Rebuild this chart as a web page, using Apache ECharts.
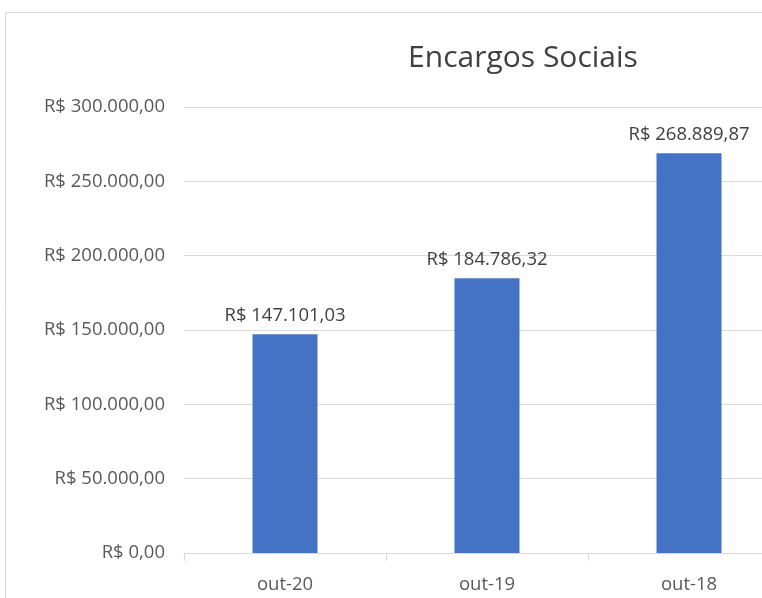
<!DOCTYPE html>
<html><head><meta charset="utf-8">
<script src="https://cdn.jsdelivr.net/npm/echarts@6/dist/echarts.min.js"></script>
<style>html,body{margin:0;padding:0;background:#fff;}#c{width:762px;height:598px;}</style>
</head><body><div id="c"></div>
<script>
const categories = ['out-20', 'out-19', 'out-18'];
const values = [147101.03, 184786.32, 268889.87];
const yMin = 0, yMax = 300000, yStep = 50000;
const title = 'Encargos Sociais';

function brl(v) {
  const parts = Number(v).toFixed(2).split('.');
  const intPart = parts[0].replace(/\B(?=(\d{3})+(?!\d))/g, '.');
  return 'R$ ' + intPart + ',' + parts[1];
}

const chart = echarts.init(document.getElementById('c'), null, {renderer: 'canvas'});
const font = '"Open Sans", "Noto Sans", sans-serif';
chart.setOption({
  animation: false,
  backgroundColor: '#fff',
  title: {
    text: title, left: 518, top: 38, textAlign: 'center',
    textStyle: {fontFamily: font, fontSize: 30, fontWeight: 'normal', color: '#404040'}
  },
  graphic: [{
    type: 'rect', shape: {x: 5.5, y: 12.5, width: 2000, height: 2000},
    style: {fill: 'none', stroke: '#d9d9d9', lineWidth: 1}, silent: true
  }],
  grid: {left: 184, top: 107, width: 606, height: 446, containLabel: false, outerBoundsMode: 'none'},
  xAxis: {
    type: 'category', data: categories, boundaryGap: true,
    axisLine: {lineStyle: {color: '#d9d9d9'}},
    axisTick: {show: true, length: 8, alignWithLabel: false, lineStyle: {color: '#d9d9d9'}},
    axisLabel: {fontFamily: font, fontSize: 18.5, color: '#595959', margin: 22}
  },
  yAxis: {
    type: 'value', min: yMin, max: yMax, interval: yStep,
    axisLine: {show: false}, axisTick: {show: false},
    splitLine: {lineStyle: {color: '#d9d9d9'}},
    axisLabel: {fontFamily: font, fontSize: 18.5, color: '#595959', margin: 19, formatter: v => brl(v)}
  },
  series: [{
    type: 'bar', data: values, barWidth: 65,
    itemStyle: {color: '#4472C4'},
    label: {show: true, position: 'top', distance: 9, fontFamily: font, fontSize: 18.5, color: '#404040', formatter: p => brl(p.value)}
  }]
});
</script></body></html>
